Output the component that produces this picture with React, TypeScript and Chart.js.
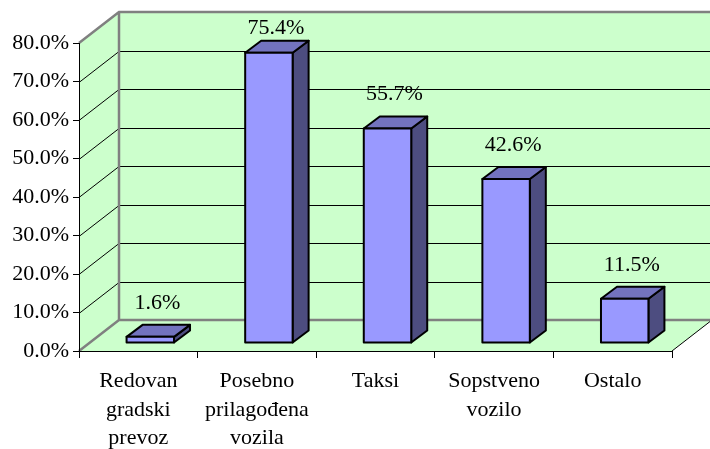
import React, { useEffect, useRef } from "react";
import { Chart, registerables } from "chart.js";

Chart.register(...registerables);

const categories: string[][] = [
  ["Redovan", "gradski", "prevoz"],
  ["Posebno", "prilagođena", "vozila"],
  ["Taksi"],
  ["Sopstveno", "vozilo"],
  ["Ostalo"],
];
const values: number[] = [1.6, 75.4, 55.7, 42.6, 11.5];
const yTicks: number[] = [0, 10, 20, 30, 40, 50, 60, 70, 80];

const FONT = "'Liberation Serif', 'Times New Roman', serif";
// wall depth offsets
const DX = 40;
const DY = -31;
// bar placement inside depth
const BOX = 12;
const BOY = -8;
const BDX = 16;
const BDY = -12;

const wallsPlugin = {
  id: "walls3d",
  beforeDraw(chart: any) {
    const { ctx, chartArea, scales } = chart;
    const { left, right, top, bottom } = chartArea;
    const W = chart.width + 60;
    const y = scales.y;
    ctx.save();
    ctx.fillStyle = "#CCFFCC";
    // back wall
    ctx.fillRect(left + DX, top + DY, W - (left + DX), bottom - top);
    // side wall
    ctx.beginPath();
    ctx.moveTo(left, top);
    ctx.lineTo(left + DX, top + DY);
    ctx.lineTo(left + DX, bottom + DY);
    ctx.lineTo(left, bottom);
    ctx.closePath();
    ctx.fill();
    // floor
    ctx.beginPath();
    ctx.moveTo(left, bottom);
    ctx.lineTo(right, bottom);
    ctx.lineTo(right + DX, bottom + DY);
    ctx.lineTo(left + DX, bottom + DY);
    ctx.closePath();
    ctx.fill();

    // gridlines
    ctx.strokeStyle = "#000";
    ctx.lineWidth = 1;
    yTicks.forEach((v) => {
      if (v === yTicks[0] || v === yTicks[yTicks.length - 1]) return;
      const py = Math.round(y.getPixelForValue(v)) + 0.5;
      ctx.beginPath();
      ctx.moveTo(left + DX, py + DY);
      ctx.lineTo(W, py + DY);
      ctx.stroke();
      ctx.beginPath();
      ctx.moveTo(left, py);
      ctx.lineTo(left + DX, py + DY);
      ctx.stroke();
    });

    // gray wall edges
    ctx.strokeStyle = "#808080";
    ctx.lineWidth = 2.5;
    ctx.beginPath();
    ctx.moveTo(left, top);
    ctx.lineTo(left + DX, top + DY);
    ctx.lineTo(W, top + DY);
    ctx.moveTo(left + DX, top + DY);
    ctx.lineTo(left + DX, bottom + DY);
    ctx.lineTo(W, bottom + DY);
    ctx.moveTo(left, bottom);
    ctx.lineTo(left + DX, bottom + DY);
    ctx.stroke();

    // floor right edge
    ctx.strokeStyle = "#000";
    ctx.lineWidth = 1;
    ctx.beginPath();
    ctx.moveTo(right, bottom);
    ctx.lineTo(right + DX, bottom + DY);
    ctx.stroke();
    ctx.restore();
  },
  afterDatasetsDraw(chart: any) {
    const { ctx } = chart;
    const meta = chart.getDatasetMeta(0);
    ctx.save();
    ctx.lineWidth = 2;
    ctx.lineJoin = "round";
    ctx.strokeStyle = "#000";
    meta.data.forEach((bar: any, i: number) => {
      const p = bar.getProps(["x", "y", "base", "width"], true);
      const L = p.x - p.width / 2 + BOX;
      const R = p.x + p.width / 2 + BOX;
      const T = p.y + BOY;
      const B = p.base + BOY;
      // side
      ctx.fillStyle = "#4D4D80";
      ctx.beginPath();
      ctx.moveTo(R, T);
      ctx.lineTo(R + BDX, T + BDY);
      ctx.lineTo(R + BDX, B + BDY);
      ctx.lineTo(R, B);
      ctx.closePath();
      ctx.fill();
      ctx.stroke();
      // top
      ctx.fillStyle = "#7373BF";
      ctx.beginPath();
      ctx.moveTo(L, T);
      ctx.lineTo(L + BDX, T + BDY);
      ctx.lineTo(R + BDX, T + BDY);
      ctx.lineTo(R, T);
      ctx.closePath();
      ctx.fill();
      ctx.stroke();
      // front
      ctx.fillStyle = "#9999FF";
      ctx.beginPath();
      ctx.rect(L, T, R - L, B - T);
      ctx.fill();
      ctx.stroke();

      // label
      ctx.fillStyle = "#000";
      ctx.font = `22px ${FONT}`;
      ctx.textAlign = "center";
      ctx.textBaseline = "middle";
      const text = values[i].toFixed(1) + "%";
      ctx.fillText(text, p.x + BOX + 7, Math.max(T - 34, 28));
    });
    ctx.restore();
  },
};

export default function App() {
  const ref = useRef<HTMLCanvasElement | null>(null);
  useEffect(() => {
    if (!ref.current) return;
    const chart = new Chart(ref.current, {
      type: "bar",
      data: {
        labels: categories,
        datasets: [
          {
            data: values,
            backgroundColor: "rgba(0,0,0,0)",
            borderWidth: 0,
            categoryPercentage: 1,
            barPercentage: 0.4,
          },
        ],
      },
      options: {
        responsive: false,
        animation: false,
        devicePixelRatio: 1,
        layout: { padding: { top: 43, right: 38, left: 0, bottom: 0 } },
        plugins: { legend: { display: false }, tooltip: { enabled: false } },
        scales: {
          x: {
            afterFit(scale: any) {
              scale.height = 98;
            },
            grid: {
              offset: true,
              drawOnChartArea: false,
              drawTicks: true,
              tickLength: 7,
              color: "#000",
            },
            border: { display: true, color: "#000", width: 1 },
            ticks: {
              color: "#000",
              padding: 9,
              maxRotation: 0,
              autoSkip: false,
              font: { family: FONT, size: 22, lineHeight: 1.3 },
            },
          },
          y: {
            min: 0,
            max: 80,
            afterFit(scale: any) {
              scale.width = 79;
            },
            afterBuildTicks(scale: any) {
              scale.ticks = yTicks.map((v) => ({ value: v }));
            },
            grid: {
              drawOnChartArea: false,
              drawTicks: true,
              tickLength: 6,
              color: "#000",
            },
            border: { display: true, color: "#000", width: 1 },
            ticks: {
              color: "#000",
              padding: 4,
              font: { family: FONT, size: 22 },
              callback: (v: any) => Number(v).toFixed(1) + "%",
            },
          },
        },
      },
      plugins: [wallsPlugin],
    });
    return () => chart.destroy();
  }, []);
  return (
    <div style={{ position: "absolute", left: 0, top: 0, width: 710, height: 449, background: "#fff" }}>
      <canvas ref={ref} width={710} height={449} />
    </div>
  );
}
